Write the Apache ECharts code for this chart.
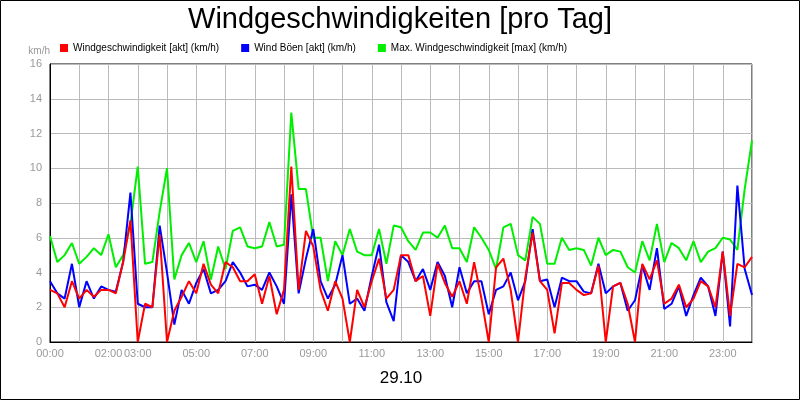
<!DOCTYPE html><html><head><meta charset="utf-8">
<script src="https://cdn.jsdelivr.net/npm/echarts@6/dist/echarts.min.js"></script>
<style>html,body{margin:0;padding:0;background:#fff}#c{width:800px;height:400px}</style></head><body><div id="c"></div>
<script>
const times=[];for(let i=0;i<=96;i++){const h=Math.floor(i/4)%24,m=(i%4)*15;times.push(String(h).padStart(2,'0')+':'+String(m).padStart(2,'0'));}
const labelIdx=[0,8,12,20,28,36,44,52,60,68,76,84,92];
const akt=[3.0,2.8,2.0,3.5,2.5,3.0,2.6,3.0,3.0,2.8,4.6,7.0,0,2.2,2.0,6.2,0,1.8,2.6,3.5,2.8,4.5,3.3,2.8,
4.6,4.3,3.5,3.5,3.9,2.2,3.8,1.6,3.0,10.1,3.0,6.4,5.5,3.0,1.8,3.5,2.5,0.0,3.0,2.0,3.5,4.8,2.5,3.0,
5.0,5.0,3.5,3.8,1.5,4.5,3.4,2.6,3.5,2.2,4.6,2.5,0.0,4.3,4.8,3.0,0.0,3.7,6.3,3.5,3.0,0.5,3.4,3.4,
3.0,2.7,2.8,4.4,0.0,3.2,3.4,2.2,0.0,4.5,3.6,4.7,2.2,2.5,3.3,2.0,2.5,3.5,3.2,2.0,5.2,1.5,4.5,4.3,4.9];
const boeen=[3.5,2.8,2.5,4.5,2.0,3.5,2.5,3.2,3.0,2.9,4.6,8.6,2.2,2.0,2.0,6.7,4.0,1.0,3.0,2.2,3.4,4.2,2.8,3.0,
3.5,4.6,4.0,3.2,3.3,3.0,4.0,3.2,2.2,8.5,2.8,4.8,6.5,3.5,2.5,3.3,5.0,2.2,2.5,1.8,3.8,5.6,2.3,1.2,
5.0,4.6,3.5,4.2,3.0,4.6,3.8,2.0,4.3,2.8,3.5,3.5,1.6,3.0,3.2,4.0,2.4,3.5,6.5,3.5,3.6,2.0,3.7,3.5,
3.5,2.9,2.8,4.5,2.8,3.2,3.4,1.8,2.4,4.4,3.0,5.4,1.9,2.2,3.2,1.5,2.7,3.7,3.2,1.5,5.2,0.9,9.0,4.2,2.7];
const maxW=[6.1,4.6,5.0,5.7,4.5,4.9,5.4,5.0,6.2,4.3,5.0,6.8,10.1,4.5,4.6,7.5,10.0,3.6,5.0,5.7,4.6,5.8,3.6,5.5,
4.2,6.4,6.6,5.5,5.4,5.5,6.9,5.5,5.6,13.2,8.8,8.8,6.0,6.0,3.5,5.8,5.0,6.5,5.2,5.0,5.0,6.5,4.5,6.7,
6.6,5.8,5.3,6.3,6.3,6.0,6.7,5.4,5.4,4.6,6.6,6.0,5.3,4.2,6.6,6.8,5.0,4.7,7.2,6.8,4.5,4.5,6.0,5.3,
5.4,5.3,4.4,6.0,5.0,5.3,5.2,4.3,4.0,5.8,4.7,6.8,4.6,5.7,5.4,4.7,5.8,4.6,5.2,5.4,6.0,5.9,5.3,8.8,11.6];
const yTicks=[0,2,4,6,8,10,12,14,16];
const ch=echarts.init(document.getElementById('c'),null,{renderer:'canvas'});
const ls=(c)=>({type:'line',symbol:'none',lineStyle:{color:c,width:2},itemStyle:{color:c}});
ch.setOption({animation:false,
title:{text:'Windgeschwindigkeiten [pro Tag]',left:'center',top:0,textStyle:{fontFamily:'Liberation Sans',fontSize:29,fontWeight:'normal',color:'#000'}},
legend:{top:38,left:55,itemWidth:8,itemHeight:8,itemGap:22,icon:'rect',textStyle:{fontFamily:'Liberation Sans',fontSize:10,color:'#000'},
 data:['Windgeschwindigkeit [akt] (km/h)','Wind Böen [akt] (km/h)','Max. Windgeschwindigkeit [max] (km/h)']},
grid:{left:50,right:48,top:64,bottom:58,show:true,borderColor:'#000',borderWidth:1},
xAxis:{type:'category',data:times,boundaryGap:false,
 axisLine:{lineStyle:{color:'#000'}},axisTick:{show:false},
 axisLabel:{interval:(i)=>labelIdx.includes(i),color:'#999',fontFamily:'Liberation Sans',fontSize:11,margin:6},
 splitLine:{show:true,interval:(i)=>i%4===0,lineStyle:{color:'#bbb'}},
 name:'29.10',nameLocation:'middle',nameGap:28,nameTextStyle:{fontFamily:'Liberation Sans',fontSize:17,color:'#000'}},
yAxis:{type:'value',min:0,max:16,interval:2,name:'km/h',nameGap:8,nameTextStyle:{color:'#999',fontSize:10,align:'right',padding:[0,0,0,0]},
 axisLine:{show:true,lineStyle:{color:'#000'}},axisTick:{show:false},
 axisLabel:{color:'#999',fontFamily:'Liberation Sans',fontSize:11,formatter:(v)=>yTicks.includes(v)?String(v):''},
 splitLine:{lineStyle:{color:'#bbb'}}},
graphic:[{type:'rect',shape:{x:0.5,y:0.5,width:799,height:399},style:{fill:'none',stroke:'#000',lineWidth:1}}],
series:[Object.assign(ls('#00ee00'),{name:'Max. Windgeschwindigkeit [max] (km/h)',data:maxW,z:1}),
Object.assign(ls('#0000ff'),{name:'Wind Böen [akt] (km/h)',data:boeen,z:2}),
Object.assign(ls('#ff0000'),{name:'Windgeschwindigkeit [akt] (km/h)',data:akt,z:3})]
});
</script></body></html>
